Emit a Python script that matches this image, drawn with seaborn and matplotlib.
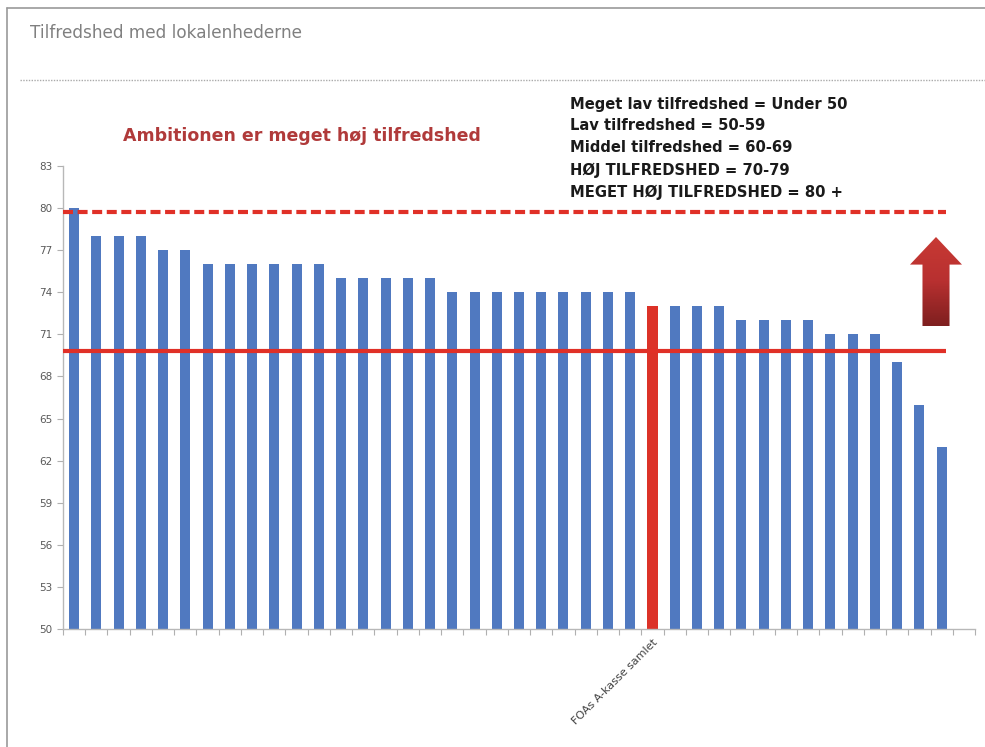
import numpy as np
import pandas as pd
import matplotlib
matplotlib.use("Agg")
import matplotlib.pyplot as plt
import seaborn as sns
from matplotlib.patches import Polygon
from matplotlib.lines import Line2D
from matplotlib.colors import LinearSegmentedColormap

# ---------------- data ----------------
units = ["Enhed %d" % i for i in range(1, 27)] + ["FOAs A-kasse samlet"] + \
        ["Enhed %d" % i for i in range(27, 40)]
scores = [80, 78, 78, 78, 77, 77, 76, 76, 76, 76, 76, 76, 75, 75, 75, 75, 75,
          74, 74, 74, 74, 74, 74, 74, 74, 74, 73, 73, 73, 73, 72, 72, 72, 72,
          71, 71, 71, 69, 66, 63]
highlight = "FOAs A-kasse samlet"
tick_labels = [u if u == highlight else "" for u in units]
y_ticks = [50, 53, 56, 59, 62, 65, 68, 71, 74, 77, 80, 83]
ambition_level = 79.7
threshold_level = 69.8
legend_lines = ["Meget lav tilfredshed = Under 50",
                "Lav tilfredshed = 50-59",
                "Middel tilfredshed = 60-69",
                "HØJ TILFREDSHED = 70-79",
                "MEGET HØJ TILFREDSHED = 80 +"]

BLUE = "#5079c0"
RED = "#dc3228"
LINE_RED = "#e03027"

W, H = 985, 747
sns.set_style("white")
plt.rcParams['font.family'] = ['DejaVu Sans']
fig = plt.figure(figsize=(W / 100, H / 100), dpi=100)
ax = fig.add_axes([63 / W, 1 - 629 / H, (975 - 63) / W, (629 - 166) / H])

df = pd.DataFrame({"enhed": units, "score": scores,
                   "gruppe": ["FOA" if u == highlight else "Lokal" for u in units]})
sns.barplot(data=df, x="enhed", y="score", hue="gruppe", order=units,
            palette={"Lokal": BLUE, "FOA": RED}, dodge=False, width=0.45,
            saturation=1, legend=False, ax=ax, zorder=2)

# widen highlighted bar a little
for p in ax.patches:
    p.set_edgecolor("none")
    fc = p.get_facecolor()
    if fc[0] > 0.7 and fc[2] < 0.3:
        cx = p.get_x() + p.get_width() / 2
        p.set_width(0.52)
        p.set_x(cx - 0.26)

ax.set_ylim(50, 83)
ax.set_xlim(-0.5, 40.5)
ax.set_yticks(y_ticks)
ax.set_xticks(range(len(units)))
ax.set_xticklabels(tick_labels, rotation=45, ha="right", rotation_mode="anchor",
                   fontsize=8, color="#404040")
ax.set_xticks(np.arange(-0.5, 41, 1), minor=True)
ax.tick_params(axis="x", which="major", bottom=True, length=0, pad=6)
ax.tick_params(axis="x", which="minor", bottom=True, length=4, direction="out",
               color="#b0b0b0", width=0.8)
ax.tick_params(axis="y", which="major", left=True, length=4, direction="out",
               color="#b0b0b0", width=0.8, labelsize=7.5, labelcolor="#595959")
ax.set_xlabel("")
ax.set_ylabel("")
for s in ["top", "right"]:
    ax.spines[s].set_visible(False)
for s in ["left", "bottom"]:
    ax.spines[s].set_color("#b8b8b8")
    ax.spines[s].set_linewidth(1)

ax.hlines(ambition_level, -0.5, 39.2, colors=LINE_RED, linewidth=3,
          linestyles=(0, (2.4, 1.1)), zorder=3)
ax.hlines(threshold_level, -0.5, 39.2, colors=LINE_RED, linewidth=3, zorder=3)

# texts
fig.text(30 / W, 1 - 33 / H, "Tilfredshed med lokalenhederne", va="center",
         ha="left", color="#808080", fontsize=12.2)
fig.text(123 / W, 1 - 136 / H, "Ambitionen er meget høj tilfredshed", va="center",
         ha="left", color="#b03a3a", fontsize=12.5, fontweight="bold")
for i, line in enumerate(legend_lines):
    fig.text(570 / W, 1 - (104 + 22 * i) / H, line, va="center", ha="left",
             color="#1a1a1a", fontsize=10.6, fontweight="bold")

# frame lines
fig.add_artist(Line2D([7 / W, 1], [1 - 8 / H, 1 - 8 / H], color="#9a9a9a", lw=1.2))
fig.add_artist(Line2D([7 / W, 7 / W], [1 - 8 / H, 0], color="#9a9a9a", lw=1.2))
fig.add_artist(Line2D([20 / W, 1], [1 - 80 / H, 1 - 80 / H], color="#aaaaaa", lw=1,
                      linestyle=(0, (1, 1))))

# gradient arrow
aax = fig.add_axes([910 / W, 1 - 326 / H, 52 / W, 89 / H])
aax.set_xlim(0, 1)
aax.set_ylim(0, 1)
aax.axis("off")
poly = Polygon([(0.24, 0), (0.76, 0), (0.76, 0.69), (1, 0.69), (0.5, 1),
                (0, 0.69), (0.24, 0.69)], closed=True, transform=aax.transData,
               facecolor="none", edgecolor="none")
aax.add_patch(poly)
cmap = LinearSegmentedColormap.from_list("arr", ["#7e1f1f", "#b83030", "#c83a34"])
grad = np.linspace(0, 1, 200).reshape(-1, 1)
im = aax.imshow(grad, extent=[0, 1, 0, 1], origin="lower", cmap=cmap, aspect="auto")
im.set_clip_path(poly)

fig.savefig("out.png", dpi=100)
